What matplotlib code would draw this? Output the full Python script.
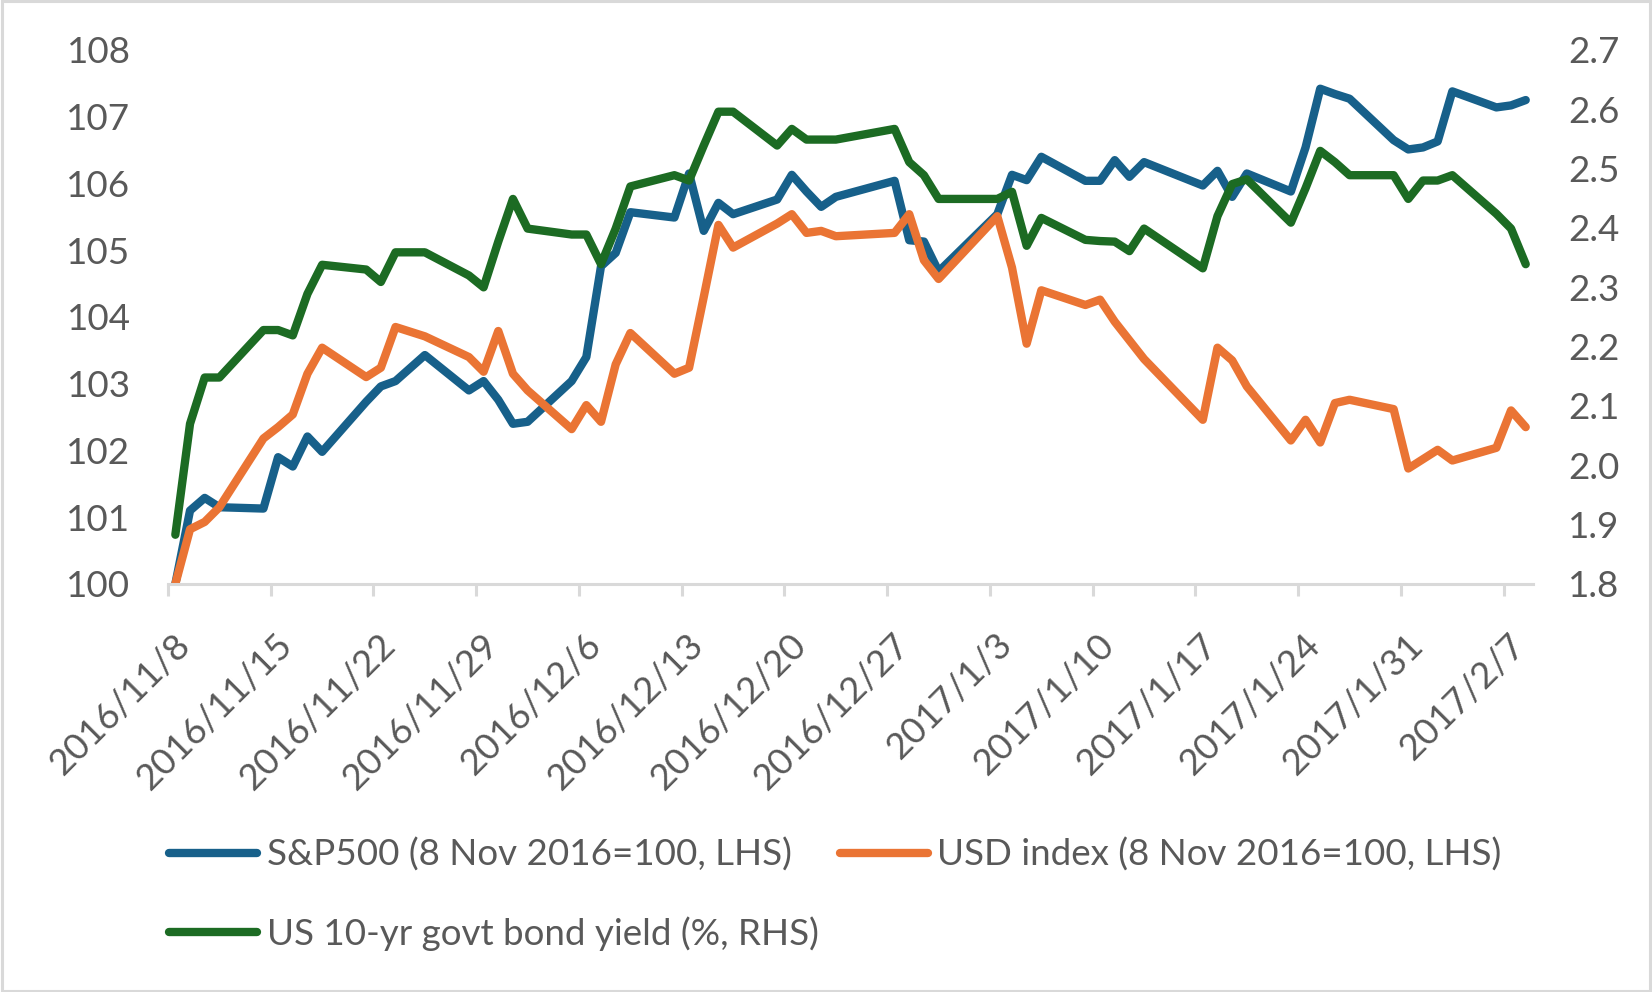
import numpy as np
import pandas as pd
import matplotlib
matplotlib.use("Agg")
import matplotlib.pyplot as plt
from matplotlib.patches import Rectangle
from matplotlib.transforms import ScaledTranslation

# trading days, 8 Nov 2016 - 8 Feb 2017
dates = ["2016-11-08", "2016-11-09", "2016-11-10", "2016-11-11", "2016-11-14", "2016-11-15",
         "2016-11-16", "2016-11-17", "2016-11-18", "2016-11-21", "2016-11-22", "2016-11-23",
         "2016-11-25", "2016-11-28", "2016-11-29", "2016-11-30", "2016-12-01", "2016-12-02",
         "2016-12-05", "2016-12-06", "2016-12-07", "2016-12-08", "2016-12-09", "2016-12-12",
         "2016-12-13", "2016-12-14", "2016-12-15", "2016-12-16", "2016-12-19", "2016-12-20",
         "2016-12-21", "2016-12-22", "2016-12-23", "2016-12-27", "2016-12-28", "2016-12-29",
         "2016-12-30", "2017-01-03", "2017-01-04", "2017-01-05", "2017-01-06", "2017-01-09",
         "2017-01-10", "2017-01-11", "2017-01-12", "2017-01-13", "2017-01-17", "2017-01-18",
         "2017-01-19", "2017-01-20", "2017-01-23", "2017-01-24", "2017-01-25", "2017-01-26",
         "2017-01-27", "2017-01-30", "2017-01-31", "2017-02-01", "2017-02-02", "2017-02-03",
         "2017-02-06", "2017-02-07", "2017-02-08"]

sp500 = [100.00, 101.10, 101.29, 101.15, 101.13, 101.90, 101.76, 102.21, 101.98, 102.73,
         102.96, 103.04, 103.43, 102.90, 103.04, 102.76, 102.40, 102.43, 103.04, 103.40,
         104.76, 104.96, 105.57, 105.49, 106.15, 105.29, 105.71, 105.54, 105.76, 106.13,
         105.88, 105.65, 105.80, 106.04, 105.15, 105.13, 104.68, 105.54, 106.13, 106.05,
         106.40, 106.04, 106.04, 106.35, 106.10, 106.32, 105.97, 106.19, 105.80, 106.15,
         105.88, 106.54, 107.42, 107.34, 107.27, 106.65, 106.51, 106.54, 106.63, 107.38,
         107.14, 107.17, 107.25]

usd = [100.00, 100.82, 100.93, 101.15, 102.18, 102.35, 102.54, 103.15, 103.54, 103.10,
       103.24, 103.85, 103.71, 103.40, 103.18, 103.79, 103.15, 102.90, 102.32, 102.68,
       102.43, 103.29, 103.76, 103.15, 103.24, 104.30, 105.38, 105.04, 105.40, 105.54,
       105.26, 105.29, 105.21, 105.26, 105.54, 104.85, 104.57, 105.51, 104.74, 103.60,
       104.40, 104.18, 104.26, 103.93, 103.65, 103.37, 102.46, 103.54, 103.35, 102.96,
       102.15, 102.46, 102.12, 102.71, 102.76, 102.62, 101.73, 101.87, 102.01, 101.85,
       102.04, 102.60, 102.35]

bond = [1.883, 2.070, 2.148, 2.148, 2.228, 2.228, 2.219, 2.289, 2.338, 2.330,
        2.309, 2.359, 2.359, 2.320, 2.300, 2.377, 2.449, 2.399, 2.389, 2.389,
        2.339, 2.399, 2.470, 2.489, 2.480, 2.539, 2.596, 2.596, 2.539, 2.567,
        2.549, 2.549, 2.549, 2.567, 2.511, 2.489, 2.449, 2.449, 2.461, 2.370,
        2.417, 2.380, 2.378, 2.377, 2.361, 2.399, 2.332, 2.420, 2.474, 2.482,
        2.409, 2.467, 2.530, 2.511, 2.489, 2.489, 2.449, 2.480, 2.480, 2.489,
        2.424, 2.399, 2.339]

labels = ["S&P500 (8 Nov 2016=100, LHS)", "USD index (8 Nov 2016=100, LHS)",
          "US 10-yr govt bond yield (%, RHS)"]
left_ticks = [100, 101, 102, 103, 104, 105, 106, 107, 108]
right_ticks = [1.8, 1.9, 2.0, 2.1, 2.2, 2.3, 2.4, 2.5, 2.6, 2.7]

BLUE = "#17608A"
ORANGE = "#EA7434"
GREEN = "#1C6B23"
GREY = "#595959"
AXIS = "#D9D9D9"
FS = 26.5

plt.rcParams['font.family'] = ['Lato', 'DejaVu Sans']

fig = plt.figure(figsize=(16.52, 9.92), dpi=100)
ax = fig.add_axes([0.1017, 0.4113, 0.8263, 0.5383])
ax2 = ax.twinx()

# excel "between tick marks": each day sits in the middle of its slot
x = pd.to_datetime(dates) + pd.Timedelta(hours=12)
style = dict(lw=6, solid_capstyle='round', solid_joinstyle='round')
l1, = ax.plot(x, sp500, color=BLUE, **style)
l2, = ax.plot(x, usd, color=ORANGE, **style)
l3, = ax2.plot(x, bond, color=GREEN, **style)

ax.set_xlim(pd.Timestamp("2016-11-08"), pd.Timestamp("2017-02-09"))
ax.set_ylim(100, 108)
ax2.set_ylim(1.8, 2.7)

xt = pd.date_range("2016-11-08", "2017-02-07", freq="7D")
ax.set_xticks(xt)
ax.set_xticklabels([f"{d.year}/{d.month}/{d.day}" for d in xt])
ax.set_yticks(left_ticks)
ax.set_yticklabels([str(v) for v in left_ticks])
ax2.set_yticks(right_ticks)
ax2.set_yticklabels([f"{v:.1f}" for v in right_ticks])

for a in (ax, ax2):
    for s in ("top", "left", "right", "bottom"):
        a.spines[s].set_visible(False)
ax.spines["bottom"].set_visible(True)
ax.spines["bottom"].set_color(AXIS)
ax.spines["bottom"].set_linewidth(2.2)

ax.tick_params(axis='x', length=8.6, width=2.2, color=AXIS, labelcolor=GREY,
               labelsize=FS, pad=23)
ax.tick_params(axis='y', length=0, labelcolor=GREY, labelsize=FS, pad=27)
ax2.tick_params(axis='y', length=0, labelcolor=GREY, labelsize=FS, pad=25)

shift = ScaledTranslation(0.28, 0, fig.dpi_scale_trans)
for lab in ax.get_xticklabels():
    lab.set_rotation(45)
    lab.set_ha('right')
    lab.set_va('top')
    lab.set_transform(lab.get_transform() + shift)

fig.legend(handles=[l1, l3, l2], labels=[labels[0], labels[2], labels[1]],
           ncol=2, loc='upper left', bbox_to_anchor=(0.1023, 0.1555),
           frameon=False, fontsize=FS, labelcolor=GREY, handlelength=2.4,
           handletextpad=0.25, columnspacing=0.58, labelspacing=1.21,
           borderpad=0, borderaxespad=0)

fig.patches.append(Rectangle((0.001, 0.0015), 0.998, 0.997, transform=fig.transFigure,
                             fill=False, edgecolor=AXIS, lw=2.2))

fig.savefig("out.png", dpi=100, facecolor="white")
